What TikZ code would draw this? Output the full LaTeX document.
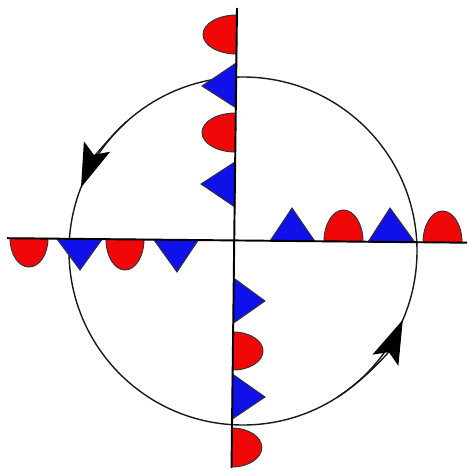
\documentclass[tikz,border=0pt]{standalone}
\usepackage{tikz}
\usetikzlibrary{arrows.meta}
\definecolor{vermelho}{RGB}{240,8,8}
\definecolor{azul}{RGB}{16,16,235}

\begin{document}
\begin{tikzpicture}[x=0.02cm,y=-0.02cm,
    eixo/.style={line width=1.1pt,black},
    orbita/.style={line width=0.8pt,black!90},
    quente/.style={fill=vermelho,draw=black!80,line width=0.55pt},
    frio/.style={fill=azul,draw=black!80,line width=0.55pt},
    sentido/.style={-{Stealth[length=25pt,width=16pt,inset=5pt,black]},orbita}]
  \useasboundingbox (0,0) rectangle (467,470);
  \coordinate (c) at (243,251);
  \coordinate (n) at (237,8);
  \coordinate (s) at (231.5,468);
  \coordinate (w) at (7,238.2);
  \coordinate (e) at (467,242.7);
  \draw[orbita] (c) circle[radius=174];
  \draw[sentido] (c) ++(228:174) arc[start angle=228,end angle=201.4,radius=174];
  \draw[sentido] (c) ++(57:174) arc[start angle=57,end angle=23.3,radius=174];
  % triangulos: base e vertice
  \foreach \xa/\ya/\xb/\yb/\xc/\yc in {236.2/63/236.2/108/202/86,
      234.9/162/234.9/207/201/184, 233.6/278/233.6/323/265/301,
      232.4/374/232.4/419/265/397, 57/239/102/239.4/80/270,
      154/240/198/240.4/177/272, 270/241/315/241.5/292/208,
      368/242/415/242.4/390/208}
    \draw[frio] (\xa,\ya) -- (\xc,\yc) -- (\xb,\yb) -- cycle;
  % semi-elipses: centro, angulos e raios
  \foreach \cx/\cy/\ini/\fim/\ra/\rb in {236.7/34.5/270/90/33.7/19.5,
      235.5/132.5/270/90/33.5/19.5, 233/351/-90/90/30/19,
      231.8/447.5/-90/90/30/19.5, 29/238.4/180/0/19/28.6,
      125/239.4/180/0/19/30.6, 343.5/241.6/180/360/19.5/31.6,
      442.5/242.5/180/360/19.5/31.5}
    \draw[quente] ({\cx+\ra*cos(\ini)},{\cy+\rb*sin(\ini)})
      arc[start angle=\ini,end angle=\fim,x radius=\ra,y radius=\rb] -- cycle;
  \draw[eixo] (n) -- (s);
  \draw[eixo] (w) -- (e);
\end{tikzpicture}
\end{document}
